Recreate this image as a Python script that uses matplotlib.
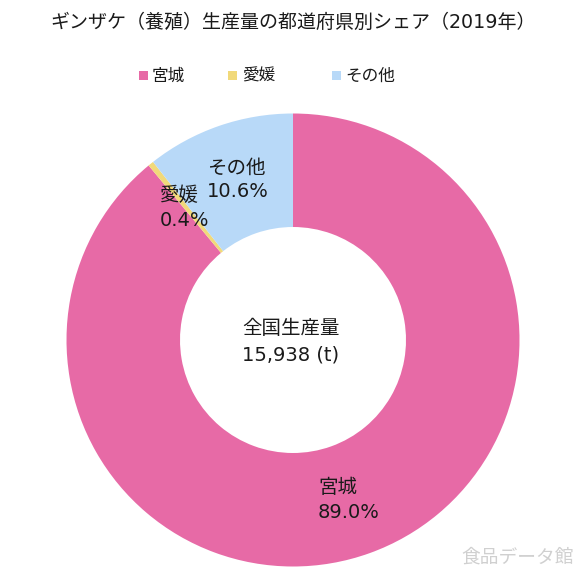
import matplotlib
matplotlib.use("Agg")
import matplotlib.pyplot as plt
from matplotlib.patches import Rectangle

plt.rcParams['font.family'] = ['DejaVu Sans', 'Noto Sans CJK JP']

categories = ['宮城', '愛媛', 'その他']
shares = [89.0, 0.4, 10.6]
colors = ['#E76AA6', '#F1D97A', '#B8D9F8']
title = 'ギンザケ（養殖）生産量の都道府県別シェア（2019年）'
center_label = '全国生産量\n15,938 (t)'

W = H = 586
fig = plt.figure(figsize=(W / 100, H / 100), dpi=100)

cx, cy, R, r = 293, 340, 226.5, 113
ax = fig.add_axes([(cx - R) / W, 1 - (cy + R) / H, 2 * R / W, 2 * R / H])
wedges, _ = ax.pie(shares, colors=colors, startangle=90, counterclock=False,
                   radius=1.0, wedgeprops=dict(width=1 - r / R, linewidth=0))
ax.set_xlim(-1, 1)
ax.set_ylim(-1, 1)
ax.set_aspect('equal')
ax.axis('off')

def px(x, y):
    return x / W, 1 - y / H

fs = 14
tc = '#1a1a1a'
fig.text(*px(293, 22), title, ha='center', va='center', fontsize=13.7, color=tc)

# legend
leg_x = [143, 233, 336]
for x, c, lab in zip(leg_x, colors, categories):
    fig.patches.append(Rectangle(px(x - 4.5, 80), 9 / W, 9 / H, transform=fig.transFigure,
                                 facecolor=c, edgecolor='none'))
    fig.text(*px(x + 9, 76), lab, ha='left', va='center', fontsize=12, color=tc)

# slice labels
fig.text(*px(318, 500), f'{categories[0]}\n{shares[0]:.1f}%', ha='left', va='center',
         fontsize=fs, color=tc, linespacing=1.45)
fig.text(*px(160, 208), f'{categories[1]}\n{shares[1]:.1f}%', ha='left', va='center',
         fontsize=fs, color=tc, linespacing=1.35)
fig.text(*px(207, 180), f'{categories[2]}\n{shares[2]:.1f}%', ha='left', va='center',
         fontsize=fs, color=tc, linespacing=1.3)

fig.text(*px(291, 342), center_label, ha='center', va='center', fontsize=fs,
         color=tc, linespacing=1.5)

fig.text(*px(518, 557), '食品データ館', ha='center', va='center', fontsize=13.5, color='#d0d0d0')

fig.savefig('out.png', dpi=100)
